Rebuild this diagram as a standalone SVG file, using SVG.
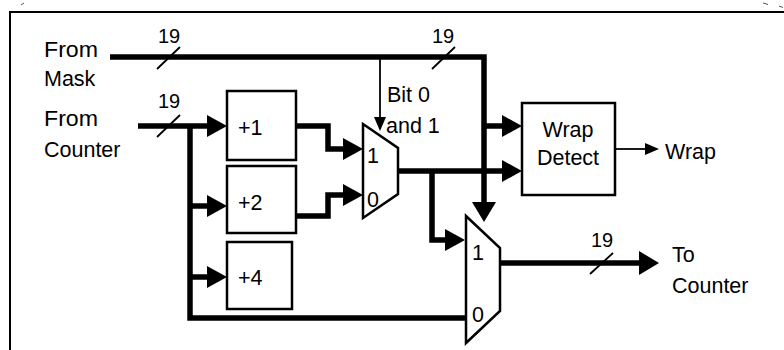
<svg xmlns="http://www.w3.org/2000/svg" width="784" height="350" viewBox="0 0 784 350">
<style>
text{font-family:"Liberation Sans",Arial,sans-serif;font-size:21.5px;fill:#000}
.n{font-size:20px}
.box{fill:#fff;stroke:#000;stroke-width:2.5}
.bus{fill:none;stroke:#000;stroke-width:5.5}
.thin{fill:none;stroke:#000;stroke-width:1.8}
.ah{fill:#000;stroke:none}
.frame{fill:none;stroke:#000;stroke-width:2}
</style>
<rect width="784" height="350" fill="#fff"/>
<g id="frame">
<path class="frame" d="M10,350 V12 H784"/>
<path d="M21,5 L24,3 M763,3 L768,4.5 M779,6 L783,7.5" stroke="#555" stroke-width="1" fill="none"/>
</g>
<g id="connectors">
<path class="bus" d="M110,57 H484 V204"/>
<polygon class="ah" points="472,202 496,202 484,222"/>
<path class="bus" d="M484,126 H503"/>
<polygon class="ah" points="502,115 502,137 522,126"/>
<path class="thin" d="M380,57 V118"/>
<polygon class="ah" points="374,117 386,117 380,131"/>
<path class="bus" d="M138,126 H208"/>
<polygon class="ah" points="207,115 207,137 227,126"/>
<path class="bus" d="M190,126 V318 H466"/>
<path class="bus" d="M190,206 H208"/>
<polygon class="ah" points="207,195 207,217 227,206"/>
<path class="bus" d="M190,277 H208"/>
<polygon class="ah" points="207,266 207,288 227,277"/>
<path class="bus" d="M296,126 H328 V149 H344"/>
<polygon class="ah" points="343,138 343,160 363,149"/>
<path class="bus" d="M296,216 H328 V195 H344"/>
<polygon class="ah" points="343,184 343,206 363,195"/>
<path class="bus" d="M398,171 H503"/>
<polygon class="ah" points="502,160 502,182 522,171"/>
<path class="bus" d="M432,171 V240 H446"/>
<polygon class="ah" points="445,229 445,251 465,240"/>
<path class="thin" d="M615,149 H646"/>
<polygon class="ah" points="645,143 645,155 659,149"/>
<path class="bus" d="M500,263 H640"/>
<polygon class="ah" points="639,251 639,275 659,263"/>
<path class="thin" d="M157,69 L180,47 M432,69 L455,47 M157,137 L180,115 M590,274 L613,253"/>
</g>
<g id="labels">
<text x="44" y="57" textLength="54" lengthAdjust="spacingAndGlyphs">From</text>
<text x="44" y="86">Mask</text>
<text x="44" y="126" textLength="54" lengthAdjust="spacingAndGlyphs">From</text>
<text x="44" y="157">Counter</text>
<text class="n" x="158" y="43">19</text>
<text class="n" x="432" y="43">19</text>
<text class="n" x="158" y="108">19</text>
<text class="n" x="591" y="247">19</text>
<text x="387" y="102">Bit 0</text>
<text x="386" y="133">and 1</text>
<text x="665" y="159">Wrap</text>
<text x="672" y="262">To</text>
<text x="672" y="293">Counter</text>
</g>
<g id="plus1">
<rect class="box" x="227" y="91" width="69" height="69"/>
<text x="238" y="135">+1</text>
</g>
<g id="plus2">
<rect class="box" x="227" y="166" width="69" height="67"/>
<text x="238" y="210">+2</text>
</g>
<g id="plus4">
<rect class="box" x="227" y="242" width="65" height="67"/>
<text x="238" y="285">+4</text>
</g>
<g id="mux1">
<polygon class="box" points="363,124 398,148 398,194 363,218"/>
<text x="367" y="163">1</text>
<text x="367" y="207">0</text>
</g>
<g id="wrapDetect">
<rect class="box" x="522" y="103" width="93" height="92"/>
<text x="568" y="137" text-anchor="middle">Wrap</text>
<text x="568" y="165" text-anchor="middle">Detect</text>
</g>
<g id="mux2">
<polygon class="box" points="466,216 500,248 500,311 466,343"/>
<text x="472" y="260">1</text>
<text x="472" y="322">0</text>
</g>
</svg>
